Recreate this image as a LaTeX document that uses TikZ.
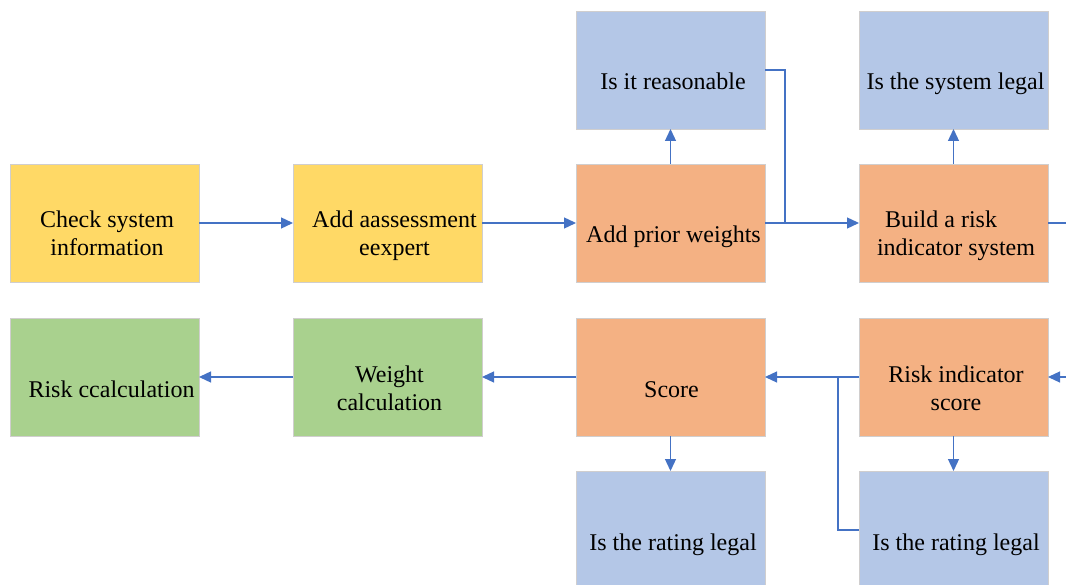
\documentclass[tikz,border=0pt]{standalone}
\usepackage{fontspec}
\setmainfont{Liberation Serif}
\usetikzlibrary{arrows.meta}
\definecolor{cyellow}{HTML}{FFD966}
\definecolor{corange}{HTML}{F4B183}
\definecolor{cblue}{HTML}{B4C7E7}
\definecolor{cgreen}{HTML}{A9D18E}
\definecolor{cedge}{HTML}{D0CECE}
\definecolor{cline}{HTML}{4472C4}
\tikzset{
  box/.style={draw=cedge, line width=0.8pt, minimum width=189pt, minimum height=118pt,
    inner sep=0pt, outer sep=0pt, anchor=center},
  ybox/.style={box, fill=cyellow},
  obox/.style={box, fill=corange},
  bbox/.style={box, fill=cblue},
  gbox/.style={box, fill=cgreen},
  txt/.style={font=\fontsize{24}{28}\selectfont, align=center, inner sep=0pt, anchor=base},
  link/.style={draw=cline, line width=1.3pt},
  arr/.style={link, -{Triangle[length=12pt,width=11pt]}},
}
\begin{document}
\begin{tikzpicture}[x=1pt,y=-1pt]
\useasboundingbox (0,0) rectangle (1066,585);
\clip (0,0) rectangle (1066,585);

% boxes
\node[ybox] (check)  at (104.5,223) {};
\node[ybox] (expert) at (387.5,223) {};
\node[obox] (prior)  at (670.5,223) {};
\node[obox] (build)  at (953.5,223) {};
\node[bbox] (reas)   at (670.5,70) {};
\node[bbox] (syslg)  at (953.5,70) {};
\node[gbox] (riskc)  at (104.5,377) {};
\node[gbox] (weight) at (387.5,377) {};
\node[obox] (score)  at (670.5,377) {};
\node[obox] (ris)    at (953.5,377) {};
\node[bbox] (rlA)    at (670.5,530) {};
\node[bbox] (rlB)    at (953.5,530) {};

% labels (base = last baseline)
\node[txt] at ([xshift=2.5,yshift=-33]check.center)  {Check system\\information};
\node[txt] at ([xshift=7,yshift=-33]expert.center) {Add aassessment\\eexpert};
\node[txt] at ([xshift=3,yshift=-20]prior.center)  {Add prior weights};
\node[txt] at ([xshift=2.5,yshift=-33]build.center)  {Build a risk\hspace*{30pt}\\indicator system};
\node[txt] at ([xshift=2.5,yshift=-20]reas.center)   {Is it reasonable};
\node[txt] at ([xshift=2,yshift=-20]syslg.center)  {Is the system legal};
\node[txt] at ([xshift=7,yshift=-20]riskc.center)  {Risk ccalculation};
\node[txt] at ([xshift=2,yshift=-33]weight.center) {Weight\\calculation};
\node[txt] at ([xshift=1,yshift=-20]score.center)  {Score};
\node[txt] at ([xshift=2.5,yshift=-33]ris.center)    {Risk indicator\\score};
\node[txt] at ([xshift=2.5,yshift=-20]rlA.center)    {Is the rating legal};
\node[txt] at ([xshift=2.5,yshift=-20]rlB.center)    {Is the rating legal};

% junction points and free ends
\coordinate (j1) at (785,223);
\coordinate (j2) at (838,377);
\coordinate (outR) at (1066,223);
\coordinate (inR)  at (1066,377);

% upper row
\draw[arr] (check) -- (expert);
\draw[arr] (expert) -- (prior);
\draw[arr] (prior) -- (build);
\draw[arr] (prior) -- (reas);
\draw[link] (reas.east) -| (j1);
\draw[arr] (build) -- (syslg);
\draw[link] (build.east) -- (outR);

% lower row
\draw[arr] (inR) -- (ris.east);
\draw[arr] (ris) -- (score);
\draw[link] (rlB.west) -| (j2);
\draw[arr] (ris) -- (rlB);
\draw[arr] (score) -- (rlA);
\draw[arr] (score) -- (weight);
\draw[arr] (weight) -- (riskc);
\end{tikzpicture}
\end{document}
